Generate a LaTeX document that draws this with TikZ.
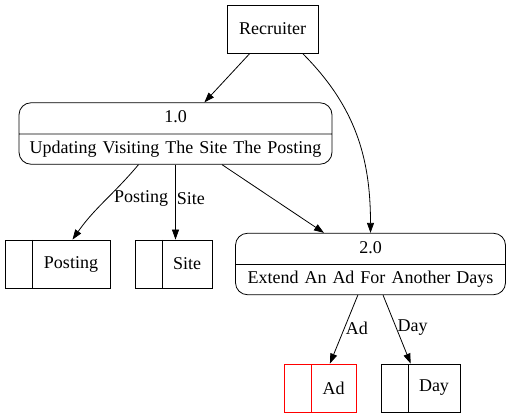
\documentclass[tikz,border=0pt]{standalone}
\usepackage{fontspec}
\setmainfont{Liberation Serif}
\usetikzlibrary{shapes.multipart,arrows.meta}
\tikzset{%
  every entity/.style={
    rectangle,
    draw,
    minimum width=91pt,
    minimum height=48pt
  },
  every process/.style={
    rectangle split,
    rectangle split parts=2,
    draw,
    rounded corners=12pt,
    text width=#1,
    align=center,
    inner xsep=5pt,
    inner ysep=6.5pt,
    text height=13pt,
    text depth=4.5pt
  },
  every store/.style={
    rectangle,
    draw=#1,
    minimum height=48pt,
    inner xsep=0pt,
    inner ysep=0pt,
    path picture={
      \draw [#1] ([xshift=27pt]path picture bounding box.north west)
        -- ([xshift=27pt]path picture bounding box.south west);
    }
  },
  every store/.default=black,
  flow label/.style={
    anchor=west,
    inner sep=1pt
  },
}

\begin{document}
\begin{tikzpicture}[x=1pt, y=-1pt, >={Triangle[length=10pt, width=7pt]},
  line width=0.8pt, every node/.append style={font=\fontsize{18pt}{21pt}\selectfont}]

\useasboundingbox (0,0) rectangle (511,419);

\node [every entity] (recruiter) at (272.5,29) {Recruiter};

\node [every process=303pt] (process-1) at (175.5,133.5)
  {1.0 \nodepart{two} Updating Visiting The Site The Posting};
\node [every process=260pt] (process-2) at (370.5,264)
  {2.0 \nodepart{two} Extend An Ad For Another Days};

\foreach \n/\l/\x/\y/\w/\c in {posting/Posting/57.5/264/78/black,
    site/Site/173.5/264/50/black, ad/Ad/320/388/45/red, day/Day/420.5/388/52/black}
  \node [every store=\c] (store-\n) at (\x,\y) {\hspace*{27pt}\makebox[\w pt]{\l}};

\draw [->] (recruiter) -- (process-1);
\draw [->] ([xshift=30pt]recruiter.south) to [out=-45, in=90] (process-2.north);

\draw [->] ([xshift=-37pt]process-1.south) to [out=-130, in=55]
  node [flow label, pos=0.45, xshift=5pt] {Posting} ([xshift=15pt]store-posting.north);
\draw [->] (process-1.south) -- node [flow label, pos=0.45] {Site} ([xshift=2pt]store-site.north);
\draw [->] (process-1) -- (process-2);

\foreach \n/\l in {ad/Ad, day/Day}
  \draw [->] (process-2) -- node [flow label, pos=0.48] {\l} (store-\n);

\end{tikzpicture}
\end{document}
